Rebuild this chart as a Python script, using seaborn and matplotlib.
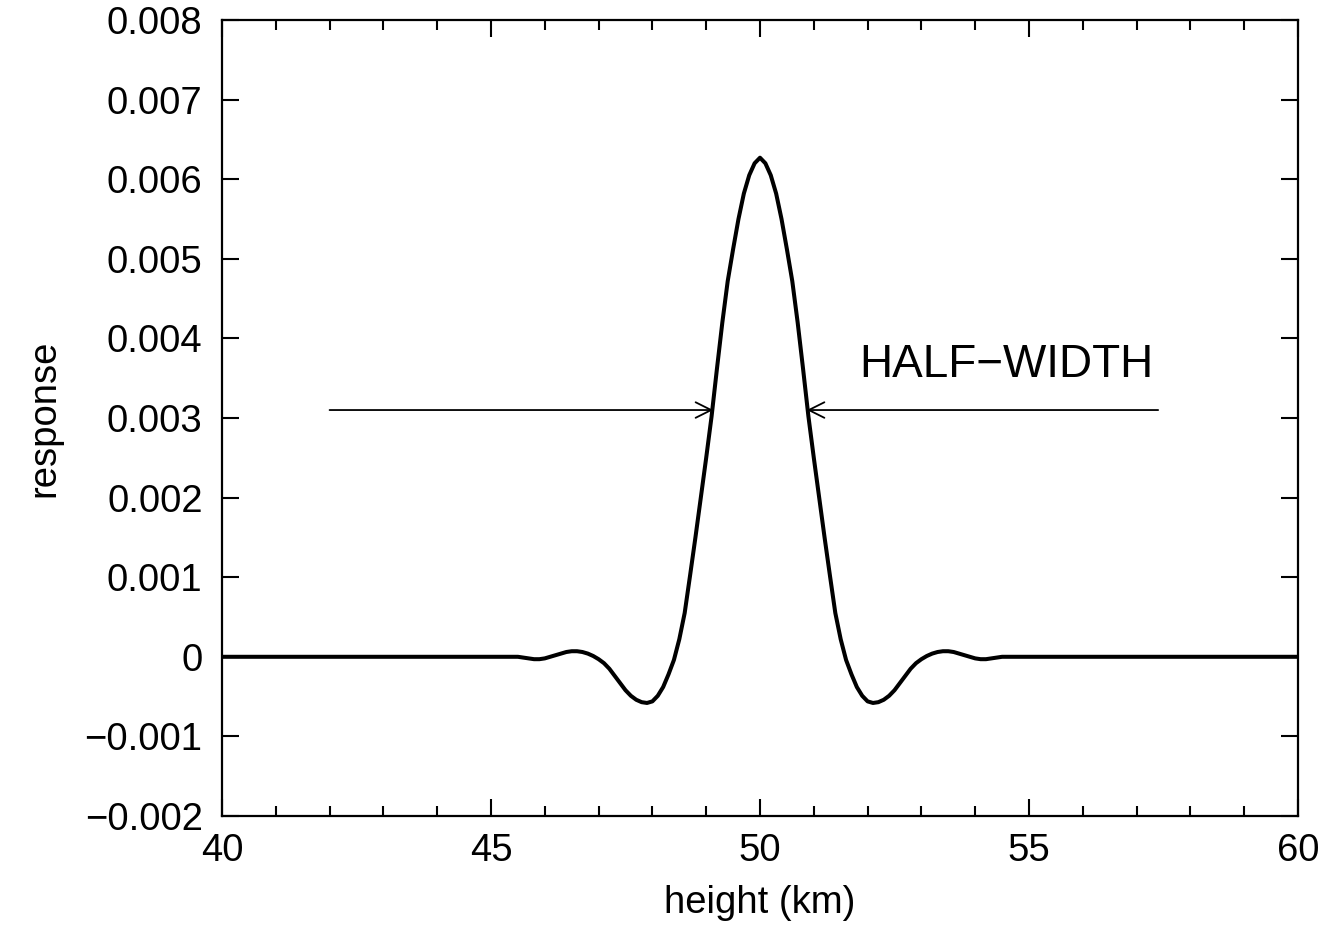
import matplotlib
matplotlib.use("Agg")
import matplotlib.pyplot as plt
import seaborn as sns
import pandas as pd
from matplotlib.ticker import MultipleLocator, FuncFormatter

height = [40.0,
          45.5, 45.6, 45.7, 45.8, 45.9, 46.0, 46.1, 46.2, 46.3, 46.4,
          46.5, 46.6, 46.7, 46.8, 46.9, 47.0, 47.1, 47.2, 47.3, 47.4,
          47.5, 47.6, 47.7, 47.8, 47.9, 48.0, 48.1, 48.2, 48.3, 48.4,
          48.5, 48.6, 48.7, 48.8, 48.9, 49.0, 49.1, 49.2, 49.3, 49.4,
          49.5, 49.6, 49.7, 49.8, 49.9, 50.0, 50.1, 50.2, 50.3, 50.4,
          50.5, 50.6, 50.7, 50.8, 50.9, 51.0, 51.1, 51.2, 51.3, 51.4,
          51.5, 51.6, 51.7, 51.8, 51.9, 52.0, 52.1, 52.2, 52.3, 52.4,
          52.5, 52.6, 52.7, 52.8, 52.9, 53.0, 53.1, 53.2, 53.3, 53.4,
          53.5, 53.6, 53.7, 53.8, 53.9, 54.0, 54.1, 54.2, 54.3, 54.4,
          54.5, 60.0]
# response in units of 1e-3
response_milli = [0.0,
          0.00, -0.01, -0.02, -0.03, -0.03, -0.02, 0.00, 0.02, 0.04, 0.06,
          0.07, 0.07, 0.06, 0.04, 0.01, -0.03, -0.08, -0.15, -0.24, -0.33,
          -0.42, -0.49, -0.54, -0.57, -0.58, -0.56, -0.49, -0.38, -0.22, -0.04,
          0.22, 0.55, 1.02, 1.50, 2.00, 2.50, 3.02, 3.62, 4.20, 4.72,
          5.12, 5.50, 5.82, 6.05, 6.20, 6.27, 6.20, 6.05, 5.82, 5.50,
          5.12, 4.72, 4.20, 3.62, 3.02, 2.50, 2.00, 1.50, 1.02, 0.55,
          0.22, -0.04, -0.22, -0.38, -0.49, -0.56, -0.58, -0.57, -0.54, -0.49,
          -0.42, -0.33, -0.24, -0.15, -0.08, -0.03, 0.01, 0.04, 0.06, 0.07,
          0.07, 0.06, 0.04, 0.02, 0.00, -0.02, -0.03, -0.03, -0.02, -0.01,
          0.00, 0.0]

half_level = 0.0031
left_arrow = (42.0, 49.13)
right_arrow = (57.4, 50.87)
label_text = "HALF\u2212WIDTH"

sns.set_style("ticks")
plt.rcParams['font.family'] = ['Liberation Sans', 'DejaVu Sans']
plt.rcParams['text.color'] = 'black'
plt.rcParams['axes.labelcolor'] = 'black'

fig = plt.figure(figsize=(13.26, 9.26), dpi=100)
ax = fig.add_axes([0.1674, 0.1188, 0.9789 - 0.1674, 0.9784 - 0.1188])

df = pd.DataFrame({"height": height,
                   "response": [v * 1e-3 for v in response_milli]})
sns.lineplot(data=df, x="height", y="response", ax=ax, color="black",
             linewidth=2.9)

arrow_kw = dict(arrowstyle="->", color="black", lw=1.3, mutation_scale=28,
                shrinkA=0, shrinkB=0)
ax.annotate("", xy=(left_arrow[1], half_level), xytext=(left_arrow[0], half_level),
            arrowprops=arrow_kw)
ax.annotate("", xy=(right_arrow[1], half_level), xytext=(right_arrow[0], half_level),
            arrowprops=arrow_kw)
ax.text(51.84, 0.00366, label_text, fontsize=33, va="center", ha="left",
        color="black")

ax.set_xlim(40, 60)
ax.set_ylim(-0.002, 0.008)
ax.xaxis.set_major_locator(MultipleLocator(5))
ax.xaxis.set_minor_locator(MultipleLocator(1))
ax.yaxis.set_major_locator(MultipleLocator(0.001))

def yfmt(v, pos):
    if abs(v) < 1e-9:
        return "0"
    return f"{v:.3f}".replace("-", "\u2212")
ax.yaxis.set_major_formatter(FuncFormatter(yfmt))

ax.tick_params(which="both", direction="in", top=True, right=True, labelsize=27.5,
               width=1.5, colors="black")
ax.tick_params(which="major", length=12)
ax.tick_params(axis="y", which="major", pad=14)
ax.tick_params(axis="x", which="major", pad=12)
ax.tick_params(which="minor", length=7)
ax.tick_params(axis="y", which="minor", left=False, right=False)
for s in ax.spines.values():
    s.set_linewidth(1.6)
    s.set_color("black")

ax.set_xlabel("height (km)", fontsize=27.5, labelpad=12)
ax.set_ylabel("response", fontsize=27.5, labelpad=16)

fig.savefig("out.png", dpi=100)
